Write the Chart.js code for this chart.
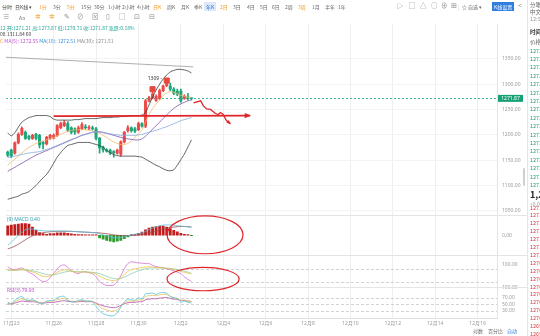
<!DOCTYPE html>
<html>
<head>
<meta charset="utf-8">
<script src="https://cdn.jsdelivr.net/npm/chart.js@4.4.1/dist/chart.umd.min.js"></script>
<style>
  html, body { margin: 0; padding: 0; background: #fff; }
  body { width: 540px; height: 336px; overflow: hidden; position: relative;
         font-family: "Noto Sans CJK SC", "Noto Sans", sans-serif; }
  #kline { position: absolute; left: 0; top: 16px; }
  .t { position: absolute; white-space: nowrap; font-size: 5px; line-height: 7px; color: #666; }
  .o { color: #ef9a1e; }
  .ic { font-size: 6.5px; color: #8a8a8a; }
  #side { position: absolute; left: 527px; top: 0; width: 13px; height: 336px; overflow: hidden;
          border-left: 1px solid #e6e6e6; background: #fff; }
  #side div { position: absolute; left: 2px; white-space: nowrap; font-size: 5.5px; line-height: 7px; }
</style>
</head>
<body>
<canvas id="kline" width="527" height="314"></canvas>

<!-- toolbar -->
<span class="t" style="left:2px;top:3px;color:#444">分时</span>
<span class="t" style="left:15px;top:3px;color:#444">日K线 ▾</span>
<span class="t o" style="left:39px;top:3px">1分</span>
<span class="t" style="left:53px;top:3px">3分</span>
<span class="t o" style="left:67px;top:3px">5分</span>
<span class="t" style="left:81px;top:3px">15分</span>
<span class="t" style="left:94px;top:3px">30分</span>
<span class="t" style="left:108px;top:3px">1小时</span>
<span class="t" style="left:122px;top:3px">2小时</span>
<span class="t" style="left:137px;top:3px">4小时</span>
<span class="t o" style="left:153px;top:3px">日K</span>
<span class="t" style="left:167px;top:3px">周K</span>
<span class="t" style="left:181px;top:3px">月K</span>
<span class="t" style="left:194px;top:3px">季K</span>
<span class="t" style="left:204px;top:2px;padding:1px 2px;background:#dde8fa;color:#2f6fd6">年K</span>
<span class="t o" style="left:220px;top:3px">2日</span>
<span class="t" style="left:233px;top:3px">3日</span>
<span class="t" style="left:247px;top:3px">4日</span>
<span class="t" style="left:260px;top:3px">5日</span>
<span class="t" style="left:272px;top:3px">6日</span>
<span class="t" style="left:285px;top:3px">2周</span>
<span class="t o" style="left:298px;top:3px">3周</span>
<span class="t" style="left:312px;top:3px">1月</span>
<span class="t" style="left:325px;top:3px">半年</span>
<span class="t" style="left:338px;top:3px">1年</span>
<span class="t ic" style="left:397px;top:2px">▷</span>
<span class="t ic" style="left:409px;top:2px">□</span>
<span class="t ic" style="left:420px;top:2px">△</span>
<span class="t ic" style="left:431px;top:2px">○</span>
<span class="t ic" style="left:441px;top:2px">⊕</span>
<span class="t ic" style="left:451px;top:2px">⊞</span>
<span class="t" style="left:458px;top:3px;color:#ccc">|</span>
<span class="t" style="left:462px;top:3px">☆ 自选 ▾</span>
<span class="t" style="left:492px;top:2px;padding:1px 2px;background:#2f7ee0;color:#fff">K线设置</span>
<span class="t ic" style="left:518px;top:2px">&lt;</span>

<span class="t ic" style="left:3px;top:13px">≡</span>
<span class="t" style="left:19px;top:14px;color:#777">Aa</span>
<span class="t ic" style="left:35px;top:13px;color:#f0a020">✲</span>
<span class="t ic" style="left:49px;top:13px;color:#f0a020">✲</span>
<span class="t ic" style="left:64px;top:13px">✎</span>
<span class="t ic" style="left:77px;top:13px">⊘</span>
<span class="t ic" style="left:92px;top:13px">⊠</span>
<span class="t ic" style="left:106px;top:13px">▯</span>
<span class="t ic" style="left:119px;top:13px">□</span>
<span class="t ic" style="left:134px;top:13px">⊡</span>
<span class="t ic" style="left:149px;top:13px">⊟</span>

<!-- legend rows -->
<span class="t" style="left:0;top:24px;color:#26a69a">12 开:1271.21 高:1273.87 低:1270.71 收:1271.87 涨跌:0.18%</span>
<span class="t" style="left:0;top:30px;color:#444">08 1311.84 60</span>
<span class="t" style="left:0;top:37px"><span style="color:#ef9a1e">C</span> <span style="color:#c04fd0">MA(5): 1272.55</span> <span style="color:#3b8fd9">MA(10): 1272.51</span> <span style="color:#888">MA(30): 1271.51</span></span>

<!-- bottom row -->
<span class="t" style="left:473px;top:327px">对数</span>
<span class="t" style="left:488px;top:327px">百分比</span>
<span class="t" style="left:507px;top:327px;color:#2f7ee0">自动</span>

<div style="position:absolute;left:523px;top:168px;width:2px;height:18px;background:#cfcfcf;border-radius:1px"></div>
<div id="side"></div>

<script>
// ---- data ----
const slotCount = 139;
const dateTicks = [1, 13, 25, 37, 49, 61, 73, 85, 97, 109, 121, 133];
const dateLabels = ['11月23', '11月26', '11月28', '11月30', '12月2', '12月4', '12月6', '12月8', '12月10', '12月12', '12月14', '12月16'];

const open = [1166, 1170, 1164, 1184, 1201, 1205, 1197, 1193, 1201, 1199,
  1185, 1182, 1193, 1194, 1199, 1214, 1218, 1222, 1214, 1212,
  1205, 1212, 1216, 1213, 1214, 1212, 1193, 1176, 1170, 1170,
  1167, 1164, 1162, 1186, 1208, 1214, 1212, 1210, 1222, 1217,
  1267, 1273, 1268, 1272, 1287, 1297, 1296, 1290, 1286, 1286,
  1272, 1275, 1273];
const high = [1168, 1172, 1186, 1204, 1216, 1208, 1199, 1201, 1203, 1201,
  1187, 1197, 1201, 1202, 1220, 1225, 1228, 1226, 1216, 1214,
  1217, 1224, 1220, 1218, 1217, 1215, 1195, 1178, 1173, 1172,
  1169, 1172, 1188, 1207, 1218, 1216, 1215, 1225, 1224, 1270,
  1276, 1284, 1279, 1290, 1298, 1309, 1302, 1293, 1290, 1290,
  1279, 1282, 1273.87];
const low = [1157, 1155, 1162, 1182, 1199, 1191, 1190, 1191, 1190, 1174,
  1172, 1180, 1191, 1192, 1197, 1212, 1216, 1206, 1202, 1201,
  1203, 1210, 1211, 1210, 1209, 1190, 1164, 1166, 1166, 1161,
  1156, 1162, 1158, 1184, 1205, 1205, 1204, 1208, 1215, 1214,
  1265, 1271, 1266, 1270, 1285, 1295, 1287, 1279, 1277, 1264,
  1270, 1269, 1269];
const close = [1160, 1158, 1184, 1201, 1213, 1193, 1193, 1199, 1193, 1180,
  1182, 1195, 1199, 1199, 1218, 1222, 1224, 1209, 1205, 1205,
  1214, 1220, 1214, 1215, 1212, 1193, 1174, 1170, 1168, 1164,
  1165, 1170, 1186, 1205, 1214, 1208, 1207, 1222, 1217, 1267,
  1273, 1281, 1276, 1287, 1296, 1306, 1290, 1282, 1280, 1267,
  1276, 1272, 1271.87];

const ma5 = [1140, 1146, 1152, 1158, 1164, 1170, 1175, 1179, 1183, 1186,
  1188, 1190, 1192, 1195, 1198, 1201, 1204, 1207, 1209, 1210,
  1210, 1210, 1210, 1209, 1208, 1206, 1203, 1199, 1195, 1190,
  1186, 1183, 1181, 1181, 1183, 1188, 1195, 1202, 1210, 1225,
  1240, 1252, 1261, 1268, 1278, 1283, 1285, 1284, 1281, 1278,
  1276, 1274, 1273];
const ma10 = [1128, 1132, 1136, 1140, 1144, 1148, 1152, 1156, 1160, 1163,
  1166, 1169, 1172, 1175, 1178, 1181, 1184, 1187, 1190, 1193,
  1196, 1199, 1201, 1203, 1205, 1206, 1206, 1205, 1203, 1201,
  1199, 1197, 1195, 1193, 1192, 1191, 1190, 1190, 1192, 1197,
  1204, 1211, 1218, 1225, 1232, 1239, 1246, 1252, 1257, 1261,
  1264, 1267, 1269];
const ma30 = [1155, 1157, 1158, 1160, 1161, 1163, 1164, 1165, 1166, 1167,
  1169, 1171, 1173, 1176, 1179, 1182, 1185, 1188, 1191, 1193,
  1196, 1199, 1201, 1203, 1205, 1206, 1205, 1204, 1203, 1202,
  1201, 1200, 1199, 1199, 1199, 1199, 1199, 1200, 1201, 1203,
  1205, 1207, 1209, 1211, 1214, 1216, 1219, 1222, 1225, 1228,
  1230, 1232, 1234];
const bollUp = [1204, 1198, 1204, 1215, 1225, 1230, 1234, 1236, 1238, 1238,
  1238, 1238, 1236, 1231, 1229, 1229, 1229, 1229, 1229, 1230,
  1230, 1231, 1232, 1232, 1232, 1232, 1233, 1234, 1234, 1234,
  1235, 1235, 1236, 1236, 1237, 1238, 1238, 1238, 1239, 1244,
  1259, 1274, 1288, 1300, 1310, 1318, 1324, 1327, 1329, 1329,
  1328, 1326, 1322];
const bollDn = [1073, 1075, 1077, 1079, 1083, 1085, 1088, 1094, 1100, 1108,
  1115, 1122, 1132, 1144, 1156, 1165, 1173, 1179, 1181, 1183,
  1185, 1185, 1185, 1185, 1183, 1181, 1179, 1175, 1169, 1165,
  1161, 1159, 1158, 1158, 1158, 1158, 1158, 1157, 1156, 1152,
  1148, 1144, 1140, 1137, 1133, 1130, 1129, 1131, 1140, 1151,
  1162, 1176, 1190];

const macdHist = [4.8, 5.2, 5.5, 5.7, 6, 6, 5.7, 4.2, 2.5, 1.4,
  0.9, 0.5, 0.9, 0.9, 1.2, 1.2, 1.2, 1, 0.7, 0.5,
  0.35, 0.3, 0.2, 0.2, 0.2, 0.2, -1.4, -2, -2.7, -3,
  -3.4, -3, -2.7, -1.7, -0.9, 0.3, 0.5, 1, 1.6, 2.8,
  3.7, 4.2, 4.5, 4.7, 4.7, 4.2, 3.4, 2.5, 1.7, 1,
  0.5, 0.3, -0.2];
const dif = [-5.2, -3.5, -1.8, 0, 1.5, 2.8, 3.2, 3.2, 2.8, 2.5,
  2.3, 2.2, 2.2, 2.2, 2.2, 2.2, 2.2, 2.1, 2, 1.9,
  1.8, 1.7, 1.6, 1.5, 1.4, 1.2, 0.7, 0.2, -0.3, -0.8,
  -1.2, -1.3, -1.2, -0.8, -0.3, 0.2, 0.5, 0.8, 1.2, 2,
  2.9, 3.7, 4.3, 4.8, 5.2, 5.3, 5.3, 5.2, 4.9, 4.7,
  4.5, 4.3, 4.1];
const dea = [-7, -6.4, -5.6, -4.6, -3.5, -2.3, -1.2, -0.3, 0.4, 0.9,
  1.3, 1.6, 1.8, 1.9, 2, 2, 2, 2, 2, 1.9,
  1.8, 1.7, 1.6, 1.5, 1.4, 1.3, 1.2, 1, 0.8, 0.5,
  0.2, 0, -0.2, -0.3, -0.3, -0.2, 0, 0.2, 0.4, 0.7,
  1.1, 1.6, 2.1, 2.6, 3.1, 3.5, 3.9, 4.2, 4.4, 4.5,
  4.5, 4.4, 4.3];

const kdjK = [78, 75, 74, 76, 78, 75, 70, 66, 60, 52,
  46, 44, 48, 55, 64, 72, 76, 74, 70, 66,
  64, 66, 66, 64, 62, 56, 46, 38, 32, 28,
  26, 30, 40, 55, 68, 76, 80, 83, 86, 88,
  90, 88, 86, 85, 84, 82, 80, 77, 73, 68,
  64, 60, 57];
const kdjD = [72, 73, 73, 74, 75, 75, 73, 71, 68, 63,
  58, 54, 52, 53, 56, 61, 65, 68, 69, 68,
  67, 66, 66, 65, 64, 62, 58, 52, 46, 40,
  36, 34, 36, 42, 50, 58, 65, 71, 76, 80,
  83, 84, 84, 84, 84, 83, 82, 80, 77, 73,
  69, 65, 60];
const kdjJ = [90, 79, 76, 80, 84, 75, 64, 56, 44, 30,
  22, 24, 40, 59, 80, 94, 98, 86, 72, 62,
  58, 66, 66, 62, 58, 44, 22, 10, 4, 4,
  6, 22, 48, 81, 104, 112, 110, 107, 106, 104,
  104, 96, 90, 87, 84, 80, 76, 71, 65, 58,
  44, 32, 22];

const rsi6 = [56, 52, 62, 70, 74, 64, 62, 64, 60, 52,
  53, 60, 62, 62, 70, 74, 74, 62, 58, 58,
  62, 64, 60, 60, 58, 44, 30, 22, 18, 15,
  16, 24, 42, 58, 66, 64, 62, 70, 66, 82,
  83, 84, 80, 85, 86, 84, 74, 70, 68, 56,
  60, 56, 54];
const rsi12 = [55, 53, 58, 63, 67, 63, 62, 62, 60, 55,
  55, 58, 60, 60, 64, 67, 68, 62, 60, 59,
  60, 62, 60, 60, 59, 52, 43, 37, 33, 30,
  30, 34, 44, 54, 60, 60, 60, 64, 62, 74,
  76, 77, 76, 79, 80, 80, 74, 70, 68, 62,
  63, 60, 58];
const rsi24 = [52, 51, 54, 57, 60, 59, 58, 58, 57, 55,
  54, 55, 56, 56, 58, 60, 61, 59, 58, 57,
  58, 59, 58, 58, 58, 54, 49, 46, 43, 41,
  40, 42, 47, 52, 55, 56, 56, 58, 58, 64,
  66, 67, 67, 69, 70, 71, 68, 66, 65, 62,
  62, 60, 59];

const priceTicks = [1050, 1100, 1150, 1200, 1250, 1300, 1350];
const macdTicks = [0];
const kdjTicks = [100];
const rsiTicks = [30, 50, 70, 100];
const kdjLevels = [80, 20];
const rsiLevels = [70, 50, 30];

// drawings on the chart (slot index, price / indicator value)
const signalX = [41, 45];
const signalY = [1290, 1307];
const trendX = [-0.5, 52.5];
const trendY = [1353, 1334];
const arrowX = [13, 68.6];
const arrowY = [1237, 1238];
const pathX = [52.6, 54.6, 55.4, 56.3, 57.4, 58.8, 59.6, 60.2, 61, 61.9, 63];
const pathY = [1263, 1267, 1257, 1251, 1250, 1242, 1240, 1244, 1240, 1228, 1222];
const ellipses = [
  { axis: 'macd', x0: 45.1, x1: 66.6, y0: 10, y1: -9.5 },
  { axis: 'kdj', x0: 45.1, x1: 65.5, y0: 86.7, y1: -20 }
];
const notes = [{ axis: 'y', x: 43.7, y: 1310, text: '1309 -', align: 'right', color: '#333' }];

const askList = ['1273.95', '1273.82', '1273.64', '1273.51', '1273.40', '1273.25', '1273.12', '1272.98', '1272.84',
  '1272.70', '1272.55', '1272.43', '1272.30', '1272.18', '1272.06', '1271.95', '1271.90'];
const bidList = ['1271.80', '1271.72', '1271.60', '1271.48', '1271.35', '1271.22', '1271.10', '1270.96', '1270.85',
  '1270.71', '1270.58', '1270.45', '1270.32', '1270.20', '1270.08', '1269.95', '1269.81'];

// ---- side panel ----
const side = document.getElementById('side');
function sideText(txt, top, color, extra) {
  const d = document.createElement('div');
  d.textContent = txt;
  d.style.top = top + 'px';
  d.style.color = color;
  if (extra) Object.assign(d.style, extra);
  side.appendChild(d);
}
sideText('分笔', 2, '#666');
sideText('中文', 9, '#666');
sideText('12:5', 16, '#999');
sideText('时间', 29, '#333', { fontWeight: 'bold' });
sideText('价格', 39, '#666');
askList.forEach((p, i) => sideText(p, 47.5 + i * 8.4, '#1f9d6c'));
sideText('1,271.87', 190, '#222', { fontSize: '9px', lineHeight: '10px', fontWeight: 'bold' });
sideText('+0.03%', 200, '#999', { fontSize: '5px' });
bidList.forEach((p, i) => sideText(p, 204.5 + i * 7.9, '#d8343a'));

// ---- chart ----
Chart.defaults.font.family = '"Noto Sans", "Noto Sans CJK SC", sans-serif';
const UP = '#ea4a48';
const DOWN = '#1ea57a';
const RED_INK = '#e0262b';

const idx = close.map((_, i) => i);
const pts = arr => idx.map(i => ({ x: i, y: arr[i] }));
const xy = (xs, ys) => xs.map((x, i) => ({ x: x, y: ys[i] }));
const candleColor = idx.map(i => close[i] >= open[i] ? UP : DOWN);

function lineSet(arr, color, axis) {
  return { type: 'line', data: pts(arr), borderColor: color, borderWidth: 0.8, pointRadius: 0,
    tension: 0.2, yAxisID: axis, order: 1 };
}

function paneAxis(weight, min, max, ticks, showGrid) {
  return {
    type: 'linear', position: 'right', stack: 'panes', stackWeight: weight, min: min, max: max, offset: false,
    grid: { display: showGrid, color: '#f3f3f3', drawTicks: false },
    border: { display: true, color: '#e4e4e4' },
    ticks: { autoSkip: false, font: { size: 5 }, color: '#9a9a9a', padding: 5, callback: v => v.toFixed(2) },
    afterBuildTicks: s => { s.ticks = ticks.map(v => ({ value: v })); },
    afterFit: s => { s.width = 30; }
  };
}

const overlay = {
  id: 'overlay',
  beforeDatasetsDraw(chart) {
    const { ctx, chartArea: a, scales: s } = chart;
    const hline = y => { ctx.beginPath(); ctx.moveTo(a.left, y); ctx.lineTo(a.right, y); ctx.stroke(); };
    ctx.save();
    ctx.lineWidth = 1;
    ctx.strokeStyle = '#e4e4e4';
    ['macd', 'kdj', 'rsi'].forEach(id => {
      const y = Math.round(s[id].top) + 0.5;
      ctx.beginPath(); ctx.moveTo(a.left, y); ctx.lineTo(a.right + 30, y); ctx.stroke();
    });
    ctx.setLineDash([3, 2]);
    ctx.strokeStyle = '#d2d2d2';
    kdjLevels.forEach(v => hline(Math.round(s.kdj.getPixelForValue(v)) + 0.5));
    rsiLevels.forEach(v => hline(Math.round(s.rsi.getPixelForValue(v)) + 0.5));
    ctx.setLineDash([2, 2]);
    ctx.strokeStyle = '#45b59c';
    hline(Math.round(s.y.getPixelForValue(close[close.length - 1])) + 0.5);
    ctx.restore();
  },
  afterDatasetsDraw(chart) {
    const { ctx, chartArea: a, scales: s } = chart;
    ctx.save();
    chart.data.datasets.forEach((ds, i) => {
      if (!ds.arrowHead) return;
      const p = chart.getDatasetMeta(i).data;
      const b = p[p.length - 1], c = p[p.length - 2];
      const ang = Math.atan2(b.y - c.y, b.x - c.x);
      const L = ds.arrowHead;
      ctx.fillStyle = ds.borderColor;
      ctx.beginPath();
      ctx.moveTo(b.x + Math.cos(ang), b.y + Math.sin(ang));
      ctx.lineTo(b.x - L * Math.cos(ang - 0.45), b.y - L * Math.sin(ang - 0.45));
      ctx.lineTo(b.x - L * Math.cos(ang + 0.45), b.y - L * Math.sin(ang + 0.45));
      ctx.closePath();
      ctx.fill();
    });
    ctx.strokeStyle = RED_INK;
    ctx.lineWidth = 1.2;
    ellipses.forEach(e => {
      const x0 = s.x.getPixelForValue(e.x0), x1 = s.x.getPixelForValue(e.x1);
      const y0 = s[e.axis].getPixelForValue(e.y0), y1 = s[e.axis].getPixelForValue(e.y1);
      ctx.beginPath();
      ctx.ellipse((x0 + x1) / 2, (y0 + y1) / 2, Math.abs(x1 - x0) / 2, Math.abs(y1 - y0) / 2, 0, 0, Math.PI * 2);
      ctx.stroke();
    });
    ctx.font = '5px "Noto Sans", sans-serif';
    ctx.textBaseline = 'middle';
    notes.forEach(n => {
      ctx.fillStyle = n.color;
      ctx.textAlign = n.align;
      ctx.fillText(n.text, s.x.getPixelForValue(n.x), s[n.axis].getPixelForValue(n.y));
    });
    ctx.textAlign = 'left';
    ctx.fillStyle = '#2a9fb0';
    ctx.fillText('(9) MACD 0.40', a.left + 1, s.macd.top + 5);
    ctx.fillStyle = '#c04fd0';
    ctx.fillText('RSI(3) 79.93', a.left + 1, s.rsi.top + 4);
    ctx.restore();
  },
  afterDraw(chart) {
    const { ctx, chartArea: a, scales: s } = chart;
    const last = close[close.length - 1];
    const yp = s.y.getPixelForValue(last);
    ctx.save();
    ctx.fillStyle = '#17a178';
    ctx.fillRect(a.right + 1, yp - 3.5, 25, 7);
    ctx.fillStyle = '#fff';
    ctx.font = '5px "Noto Sans", sans-serif';
    ctx.textAlign = 'center';
    ctx.textBaseline = 'middle';
    ctx.fillText(last.toFixed(2), a.right + 13.5, yp + 0.3);
    ctx.restore();
  }
};

new Chart(document.getElementById('kline'), {
  type: 'bar',
  data: {
    datasets: [
      { type: 'bar', data: idx.map(i => ({ x: i, y: [low[i], high[i]] })), backgroundColor: candleColor,
        barThickness: 1, grouped: false, yAxisID: 'y', order: 6 },
      { type: 'bar', data: idx.map(i => ({ x: i, y: [open[i], close[i]] })), backgroundColor: candleColor,
        barThickness: 2.4, grouped: false, yAxisID: 'y', order: 5 },
      lineSet(bollUp, '#3a3a3a', 'y'),
      lineSet(bollDn, '#3a3a3a', 'y'),
      lineSet(ma30, '#86a9dc', 'y'),
      lineSet(ma10, '#7b4fa8', 'y'),
      lineSet(ma5, '#f2b866', 'y'),
      { type: 'line', data: xy(trendX, trendY), borderColor: '#9a9a9a', borderWidth: 0.8, pointRadius: 0, yAxisID: 'y', order: 1 },
      { type: 'line', data: xy(arrowX, arrowY), borderColor: RED_INK, borderWidth: 1.8, pointRadius: 0, yAxisID: 'y', order: 0, arrowHead: 6 },
      { type: 'line', data: xy(pathX, pathY), borderColor: RED_INK, borderWidth: 1.3, pointRadius: 0, yAxisID: 'y', order: 0, arrowHead: 4 },
      { type: 'line', data: xy(signalX, signalY), showLine: false, pointStyle: 'rect', pointRadius: 3.6,
        pointBackgroundColor: '#e5483f', pointBorderColor: '#e5483f', yAxisID: 'y', order: 0 },

      { type: 'bar', data: pts(macdHist), backgroundColor: macdHist.map(v => v >= 0 ? '#c21d1d' : '#2f9b2f'),
        barThickness: 2.2, grouped: false, yAxisID: 'macd', order: 5 },
      lineSet(dif, '#5bbfd9', 'macd'),
      lineSet(dea, '#9b4a4a', 'macd'),

      lineSet(kdjK, '#e8c24a', 'kdj'),
      lineSet(kdjD, '#86cfa2', 'kdj'),
      lineSet(kdjJ, '#d66bd6', 'kdj'),

      lineSet(rsi6, '#4fc1d8', 'rsi'),
      lineSet(rsi12, '#e6c35c', 'rsi'),
      lineSet(rsi24, '#b54aa8', 'rsi')
    ]
  },
  options: {
    responsive: false,
    animation: false,
    devicePixelRatio: 1,
    events: [],
    layout: { padding: 0 },
    plugins: { legend: { display: false }, tooltip: { enabled: false } },
    scales: {
      x: {
        type: 'linear', min: -0.5, max: slotCount - 0.5, offset: false,
        grid: { color: '#eeeeee', drawTicks: false, offset: false },
        border: { color: '#e0e0e0' },
        ticks: { autoSkip: false, maxRotation: 0, font: { size: 5 }, color: '#9a9a9a', padding: 3,
          callback: (v, i) => dateLabels[i] },
        afterBuildTicks: s => { s.ticks = dateTicks.map(v => ({ value: v })); },
        afterFit: s => { s.height = 12; }
      },
      y: paneAxis(196, 1042.3, 1418.5, priceTicks, true),
      macd: paneAxis(41, -10, 10.5, macdTicks, false),
      kdj: paneAxis(33, -2.2, 144.4, kdjTicks, false),
      rsi: paneAxis(32, 8.8, 103, rsiTicks, false)
    }
  },
  plugins: [overlay]
});
</script>
</body>
</html>
